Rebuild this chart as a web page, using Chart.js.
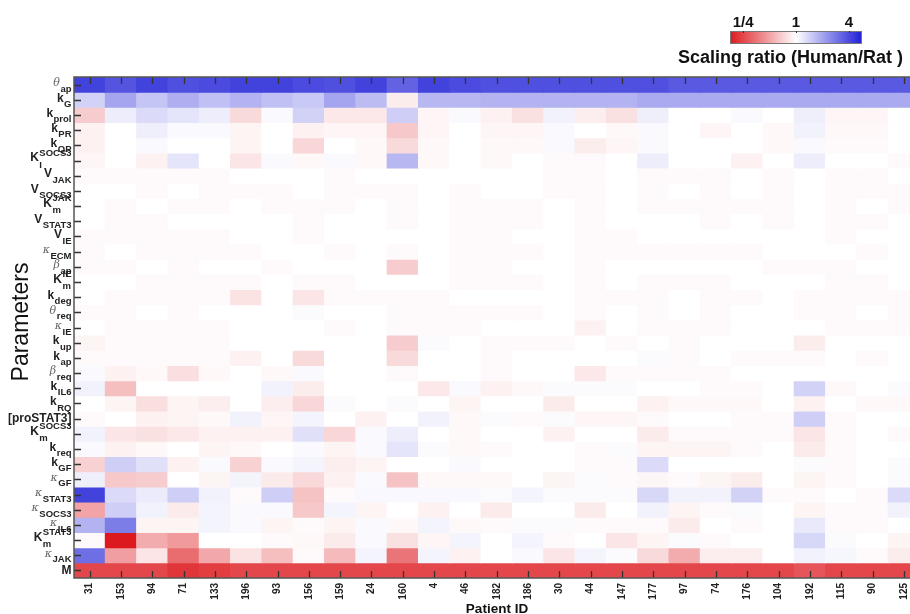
<!DOCTYPE html>
<html>
<head>
<meta charset="utf-8">
<title>Scaling ratio (Human/Rat)</title>
<script src="https://cdn.jsdelivr.net/npm/chart.js@4/dist/chart.umd.min.js"></script>
<style>
  html, body { margin: 0; padding: 0; background: #fff; overflow: hidden; }
  canvas { display: block; }
</style>
</head>
<body>
<canvas id="heat" width="920" height="614"></canvas>
<script>
const patientIds = ['31', '153', '94', '71', '133', '196', '93', '156', '159', '24', '160', '4', '46',
    '182', '186', '30', '44', '147', '177', '97', '74', '176', '104', '192', '115', '90', '125'];

// base|subscript|superscript
const paramLabels = ['θ|ap|', 'k|G|', 'k|prol|', 'k|PR|', 'k|QP|', 'K|I|SOCS3', 'V|JAK|', 'V|SOCS3|',
    'K|m|JAK', 'V|STAT3|', 'V|IE|', 'κ|ECM|', 'β|ap|', 'K|m|IE', 'k|deg|', 'θ|req|', 'κ|IE|', 'k|up|',
    'k|ap|', 'β|req|', 'k|IL6|', 'k|RQ|', '[proSTAT3]||', 'K|m|SOCS3', 'k|req|', 'k|GF|', 'κ|GF|',
    'κ|STAT3|', 'κ|SOCS3|', 'κ|IL6|', 'K|m|STAT3', 'κ|JAK|', 'M||'];

// log2(Human/Rat) per parameter row, one value per patient
const log2Ratio = [
    [2.1,1.9,2.1,1.95,2.0,2.1,2.1,2.0,1.95,2.1,1.75,2.1,2.0,1.95,1.95,1.95,1.95,1.95,1.95,1.85,1.85,1.85,1.85,1.85,1.85,1.85,1.85],
    [0.5,1.0,0.65,0.9,0.7,0.85,0.7,0.6,1.0,0.75,-0.2,0.8,0.8,0.85,0.85,0.85,0.85,0.85,0.95,0.95,0.95,0.95,0.95,0.95,0.95,0.95,0.95],
    [-0.55,0.2,0.4,0.3,0.2,-0.4,0.07,0.5,-0.25,-0.25,0.55,-0.1,0.06,-0.15,-0.33,0.15,-0.18,-0.33,0.18,0,0,0.07,0,0.18,-0.1,-0.1,0],
    [-0.15,0,0.18,0.07,0.07,-0.12,0,-0.15,-0.1,-0.1,-0.6,-0.1,0,-0.1,-0.1,0.07,0,-0.08,0.07,0,-0.1,0,-0.08,0.15,-0.08,-0.08,0],
    [-0.15,0,0.07,0,0,-0.12,0,-0.45,0,-0.08,-0.4,-0.08,0,-0.08,-0.08,0.07,-0.2,-0.1,0.07,0,0,0,-0.08,0.07,-0.06,-0.06,0],
    [-0.1,0,-0.15,0.3,0,-0.28,0.06,-0.08,0.06,-0.08,0.8,-0.08,0,-0.08,0,-0.06,-0.06,0,0.2,0,0,-0.15,0,0.2,0,0,-0.06],
    [-0.06,-0.06,-0.06,-0.06,-0.06,0,0,0,-0.06,0,0,0,0,0,0,-0.06,-0.06,0,-0.06,-0.06,-0.06,0,-0.06,0,-0.06,-0.06,0],
    [0,0,-0.06,0,-0.06,-0.06,-0.06,0,-0.06,-0.06,-0.06,0,-0.06,0,0,-0.06,-0.06,0,-0.06,0,-0.06,0,-0.06,0,-0.06,-0.06,-0.06],
    [0,-0.06,0,-0.06,-0.06,0,-0.06,-0.06,-0.06,0,-0.06,0,-0.06,-0.06,-0.06,0,-0.06,0,-0.06,-0.06,-0.06,-0.06,-0.06,0,-0.06,0,-0.06],
    [0,-0.06,-0.06,0,0,0,0,-0.06,0,0,-0.06,0,-0.06,-0.06,-0.06,0,-0.06,0,0,0,-0.06,0,-0.06,0,-0.06,-0.06,0],
    [-0.06,-0.06,-0.06,-0.06,-0.06,0,0,-0.06,0,0,0,0,-0.06,-0.06,0,0,-0.06,-0.06,0,0,0,0,0,0,-0.06,0,0],
    [-0.06,0,-0.06,-0.06,-0.06,-0.06,0,0,-0.06,0,-0.06,0,-0.06,-0.06,-0.06,0,-0.06,-0.06,-0.06,-0.06,-0.06,-0.06,0,0,0,-0.06,0],
    [-0.06,-0.06,0,-0.06,0,0,-0.06,0,0,0,-0.55,0,-0.06,-0.06,0,0,-0.06,0,0,0,0,0,-0.06,-0.06,-0.06,0,0],
    [0,0,-0.06,-0.06,-0.06,-0.06,0,-0.06,-0.06,0,0,0,-0.06,-0.06,-0.06,0,-0.06,0,-0.06,-0.06,-0.06,0,0,0,-0.06,-0.06,0],
    [0,-0.06,-0.06,-0.06,-0.06,-0.3,0,-0.28,-0.06,-0.06,-0.06,-0.06,0,0,0,0,-0.06,-0.06,-0.06,0,-0.06,-0.06,0,-0.06,-0.06,-0.06,-0.06],
    [-0.06,-0.06,0,-0.06,0,0,0,0.05,0,0,-0.06,-0.06,-0.06,-0.06,-0.06,0,-0.06,0,-0.06,0,-0.06,0,0,-0.06,-0.06,0,-0.06],
    [0,-0.06,-0.06,-0.06,-0.06,0,0,0,-0.06,0,-0.06,-0.06,-0.06,0,0,0,-0.15,0,-0.06,-0.06,-0.06,0,0,0,-0.06,-0.06,-0.06],
    [-0.12,-0.06,-0.06,-0.06,-0.06,0,0,0,0,0,-0.55,0.05,0,-0.06,-0.06,-0.06,0,-0.06,0,-0.06,0,0,0,-0.2,0,0,0],
    [-0.06,-0.06,-0.06,-0.06,-0.06,-0.15,0,-0.4,0,0,-0.4,0,0,-0.06,0,0,0,0,0.05,-0.06,0,-0.06,-0.06,-0.06,0,-0.06,0],
    [0.06,-0.15,-0.08,-0.35,-0.08,0,-0.08,0.06,0,0,-0.06,0,0,-0.06,0,0,-0.25,-0.06,-0.06,-0.06,-0.06,0,0,0,0,0,0],
    [0.15,-0.7,0,0,0,0,0.15,-0.2,0,0,0,-0.25,0.07,-0.15,-0.08,0.05,0.05,0.05,0,0,-0.06,-0.06,0,0.5,-0.08,0,0.05],
    [0,-0.12,-0.35,-0.12,-0.18,0,-0.18,-0.45,0.05,0,0.05,0,-0.12,0,0,-0.22,0,0,-0.15,-0.08,-0.08,-0.08,0,-0.15,0,-0.08,-0.08],
    [-0.06,0,-0.15,-0.12,-0.08,0.15,-0.1,0.12,0,-0.15,0,0.15,-0.08,0.05,-0.06,0.05,-0.1,-0.1,-0.06,0,0,-0.06,-0.06,0.55,-0.06,0,0],
    [0.15,-0.28,-0.33,-0.25,-0.15,-0.15,-0.15,0.35,-0.45,0.06,0.2,0,-0.08,0,0,-0.15,0,0,-0.22,-0.06,-0.06,-0.06,-0.06,-0.28,-0.06,0,-0.06],
    [0.06,-0.15,-0.08,0,-0.12,-0.08,0,0.06,-0.12,0.06,0.3,0.05,-0.08,-0.06,0,0,-0.06,0.05,-0.12,-0.12,-0.12,-0.06,0,-0.22,-0.06,0,0],
    [-0.5,0.55,0.35,-0.15,0.06,-0.5,0.06,0.12,-0.18,-0.12,0,0,0.06,0,0,0,-0.06,-0.06,0.4,0,0,0,0,0.05,-0.06,0,0.05],
    [0.18,-0.6,-0.55,0,-0.12,0.12,-0.22,-0.42,-0.15,0.06,-0.65,-0.08,-0.08,-0.08,0,-0.12,0.05,-0.06,-0.1,-0.06,-0.12,-0.2,0,-0.12,-0.06,0,0.05],
    [2.1,0.4,0.22,0.55,0.15,-0.06,0.55,-0.65,-0.06,0.08,0.08,0.08,0.08,0.05,0.12,0.05,0.05,0.05,0.45,0.15,0.15,0.5,-0.06,-0.06,0,-0.06,0.4],
    [-1.0,0.55,0.15,-0.22,0.12,0.06,0.06,-0.6,0.12,-0.12,0,-0.15,0,-0.22,0,0,-0.22,0,0.15,-0.12,-0.06,0.05,0,-0.12,-0.06,-0.06,0.15],
    [0.85,1.45,-0.12,-0.12,0.12,0.06,-0.12,-0.06,-0.12,0.06,-0.08,0.12,-0.08,-0.06,0.05,0.05,-0.06,-0.06,-0.06,-0.22,0,-0.06,0,0.25,-0.06,-0.06,0],
    [-0.06,-2.5,-0.9,-1.1,0,0,-0.05,-0.08,-0.22,0.06,-0.33,-0.1,0.12,0,0.12,-0.06,0,-0.28,-0.12,0.05,-0.06,0,0,0.45,0.05,0,-0.12],
    [1.6,-1.05,-0.28,-1.6,-0.95,-0.3,-0.7,-0.06,-0.75,0.12,-1.5,0.12,-0.15,0,0.06,-0.28,0.12,0.05,-0.4,-0.9,-0.18,-0.18,0,0.15,0.1,-0.06,-0.2],
    [-2.0,-2.0,-2.0,-2.2,-2.1,-2.0,-2.0,-2.0,-2.0,-2.0,-2.0,-2.0,-2.0,-2.0,-2.0,-2.0,-2.0,-2.0,-2.0,-2.0,-2.0,-2.0,-2.0,-1.85,-2.0,-2.0,-2.0]
];

// colour bar: tick labels and where they sit in log2 units
const cbarLabels = ['1/4', '1', '4'];
const cbarValues = [-2, 0, 2];

const LIM = 2.5;
const RED = [220, 25, 30];
const BLUE = [30, 30, 215];
const FONT = '"Liberation Sans", Arial, sans-serif';
const GREEK = '"DejaVu Serif", serif';

function ratioColor(v) {
    const f = Math.min(Math.abs(v) / LIM, 1);
    const end = v < 0 ? RED : BLUE;
    const c = end.map(e => Math.round(255 - f * (255 - e)));
    return `rgb(${c[0]},${c[1]},${c[2]})`;
}

function drawParamLabel(ctx, text, xr, cy) {
    const [base, sub, sup] = text.split('|');
    const greek = 'κθβ'.includes(base);
    ctx.font = `bold 9.5px ${FONT}`;
    const tail = Math.max(sub ? ctx.measureText(sub).width : 0, sup ? ctx.measureText(sup).width : 0);
    const xb = xr - tail - (tail ? 0.5 : 0);
    const yb = sup ? cy - 2.5 : (sub ? cy - 1.5 : cy);
    ctx.textBaseline = 'middle';
    ctx.textAlign = 'right';
    if (greek) {
        ctx.font = `italic 11px ${GREEK}`;
        ctx.fillStyle = '#666';
    } else {
        ctx.font = `bold 12px ${FONT}`;
        ctx.fillStyle = '#222';
    }
    ctx.fillText(base, xb, yb);
    ctx.fillStyle = '#222';
    ctx.textAlign = 'left';
    ctx.font = `bold 9.5px ${FONT}`;
    if (sub) ctx.fillText(sub, xb + 0.5, cy + 4.5);
    if (sup) ctx.fillText(sup, xb + 0.5, cy - 7.5);
}

const framePlugin = {
    id: 'frame',
    afterDatasetsDraw(chart) {
        const { ctx, chartArea: a, scales: { x, y } } = chart;
        ctx.save();

        // ticks pointing inward
        ctx.strokeStyle = '#333';
        ctx.lineWidth = 1.3;
        ctx.beginPath();
        patientIds.forEach((id, i) => {
            const px = Math.round(x.getPixelForValue(i)) + 0.5;
            ctx.moveTo(px, a.top); ctx.lineTo(px, a.top + 7);
            ctx.moveTo(px, a.bottom); ctx.lineTo(px, a.bottom - 7);
        });
        paramLabels.forEach((l, r) => {
            const py = Math.round(y.getPixelForValue(r + 0.5)) + 0.5;
            ctx.moveTo(a.left, py); ctx.lineTo(a.left + 7, py);
        });
        ctx.stroke();

        // box
        ctx.strokeStyle = '#555';
        ctx.lineWidth = 1.5;
        ctx.beginPath();
        ctx.moveTo(a.right + 2, a.top); ctx.lineTo(a.left, a.top);
        ctx.lineTo(a.left, a.bottom); ctx.lineTo(a.right + 2, a.bottom);
        ctx.stroke();

        // patient ids
        ctx.fillStyle = '#222';
        ctx.font = `bold 10px ${FONT}`;
        ctx.textAlign = 'right';
        ctx.textBaseline = 'middle';
        patientIds.forEach((id, i) => {
            ctx.save();
            ctx.translate(x.getPixelForValue(i), a.bottom + 5);
            ctx.rotate(-Math.PI / 2);
            ctx.fillText(id, 0, 0);
            ctx.restore();
        });

        // parameter names
        paramLabels.forEach((l, r) => drawParamLabel(ctx, l, a.left - 2.5, y.getPixelForValue(r + 0.5)));

        // axis titles
        ctx.fillStyle = '#111';
        ctx.font = `bold 13.5px ${FONT}`;
        ctx.textAlign = 'center';
        ctx.textBaseline = 'alphabetic';
        ctx.fillText('Patient ID', 497, 613);
        ctx.save();
        ctx.translate(28, 322);
        ctx.rotate(-Math.PI / 2);
        ctx.font = `23px ${FONT}`;
        ctx.fillText('Parameters', 0, 0);
        ctx.restore();

        // colour bar
        const cb = { left: 730, right: 862, top: 31, bottom: 44 };
        const toX = v => cb.left + (v + LIM) / (2 * LIM) * (cb.right - cb.left);
        const grad = ctx.createLinearGradient(cb.left, 0, cb.right, 0);
        for (let k = 0; k <= 20; k++) {
            const v = -LIM + k * (2 * LIM / 20);
            grad.addColorStop(k / 20, ratioColor(v));
        }
        ctx.fillStyle = grad;
        ctx.fillRect(cb.left, cb.top, cb.right - cb.left, cb.bottom - cb.top);
        ctx.strokeStyle = '#777';
        ctx.lineWidth = 1;
        ctx.strokeRect(cb.left + 0.5, cb.top + 0.5, cb.right - cb.left - 1, cb.bottom - cb.top - 1);
        ctx.strokeStyle = '#333';
        ctx.beginPath();
        cbarValues.forEach(v => {
            const px = Math.round(toX(v)) + 0.5;
            ctx.moveTo(px, cb.top); ctx.lineTo(px, cb.top + 2);
        });
        ctx.stroke();
        ctx.fillStyle = '#111';
        ctx.font = `bold 15px ${FONT}`;
        ctx.textAlign = 'center';
        cbarLabels.forEach((t, i) => ctx.fillText(t, toX(cbarValues[i]), 27));
        ctx.font = `bold 18px ${FONT}`;
        ctx.textAlign = 'left';
        ctx.fillText('Scaling ratio (Human/Rat )', 678, 63);

        ctx.restore();
    }
};

const datasets = log2Ratio.map((row, r) => ({
    label: paramLabels[r],
    data: row.map(() => [r, r + 1]),
    backgroundColor: row.map(ratioColor),
    borderWidth: 0,
    barPercentage: 1,
    categoryPercentage: 1,
    inflateAmount: 0.5,
    grouped: false
}));

new Chart(document.getElementById('heat').getContext('2d'), {
    type: 'bar',
    data: { labels: patientIds, datasets: datasets },
    options: {
        responsive: false,
        animation: false,
        layout: { padding: { left: 74, top: 77, right: 0.5, bottom: 36 } },
        plugins: { legend: { display: false }, tooltip: { enabled: false } },
        scales: {
            x: { type: 'category', display: false, offset: true },
            y: { type: 'linear', display: false, min: 0, max: 33, reverse: true }
        }
    },
    plugins: [framePlugin]
});
</script>
</body>
</html>
